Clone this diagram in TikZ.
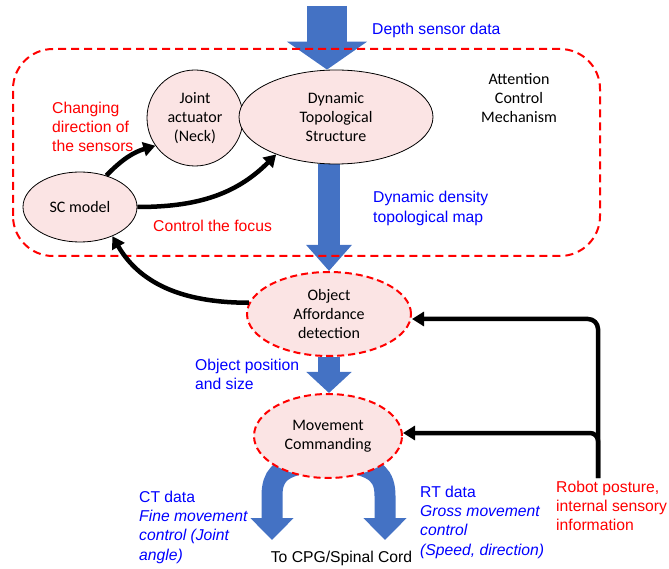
\documentclass[tikz,border=0pt]{standalone}
\usepackage{fontspec}
\setmainfont{Liberation Sans}
\newfontfamily\calibrifont{Carlito}
\usetikzlibrary{arrows.meta,shapes.geometric,backgrounds}
\definecolor{blockblue}{HTML}{4472C4}
\definecolor{bubblepink}{HTML}{FBE4E4}
\definecolor{labelred}{HTML}{FF0000}
\definecolor{labelblue}{HTML}{0000FF}

\tikzset{
  bubble/.style={ellipse,draw=black,line width=0.8pt,fill=bubblepink,inner sep=0pt,align=center,
    font=\calibrifont\fontsize{16}{19}\selectfont},
  dashbubble/.style={bubble,draw=labelred,line width=2pt,dash pattern=on 7pt off 4pt},
  bluetext/.style={text=labelblue,align=left,inner sep=0pt,font=\fontsize{15.7}{19.3}\selectfont},
  redtext/.style={bluetext,text=labelred},
  feedback/.style={line width=4.5pt,-{Triangle[length=12pt,width=14pt]}},
  blockarrow/.style={draw=blockblue,line width=22pt,-{Triangle[length=26pt,width=44pt]}}
}

\begin{document}
\begin{tikzpicture}[x=1pt,y=1pt]
    \pgfmathsetmacro{\topshaft}{40}
    \pgfmathsetmacro{\bandwidth}{21}
    \useasboundingbox (0,0) rectangle (669,568);

    % blobs
    \node[bubble,circle,minimum size=96pt] (ja) at (195,450) {Joint\\actuator\\(Neck)};
    \node[bubble,minimum width=194pt,minimum height=94pt] (dts) at (336,451) {Dynamic\\Topological\\Structure};
    \node[bubble,minimum width=114pt,minimum height=70pt] (sc) at (80,361) {SC model};
    \node[dashbubble,minimum width=164pt,minimum height=84pt] (oad) at (329,254) {Object\\Affordance\\detection};
    \node[dashbubble,minimum width=148pt,minimum height=84pt] (mc) at (328,132) {Movement\\Commanding};

    \coordinate (depthsrc) at (327,562);
    \coordinate (cttip) at (272,28);
    \coordinate (rttip) at (385,28);
    \coordinate (robotfoot) at (598,90);

    \begin{scope}[on background layer]
    \draw[blockarrow,line width=\topshaft pt,-{Triangle[length=28pt,width=79pt]}] (depthsrc) -- (depthsrc |- dts.north);
    \draw[blockarrow] (oad.north |- dts.south) -- (oad.north);
    \draw[blockarrow,-{Triangle[length=21pt,width=44pt]}] (oad.south) -- (oad.south |- mc.north);
    \draw[blockarrow,line width=\bandwidth pt,-{Triangle[length=22pt,width=42pt]}]
        ([yshift=14pt]mc.240) .. controls (280,100) and (272,92) .. (272,72) -- (cttip);
    \draw[blockarrow,line width=\bandwidth pt,-{Triangle[length=22pt,width=42pt]}]
        ([yshift=14pt]mc.300) .. controls (376,100) and (385,92) .. (385,72) -- (rttip);
    \end{scope}

    % attention frame
    \draw[labelred,line width=2pt,dash pattern=on 8pt off 5pt,rounded corners=40pt] (13,312) rectangle (600,519);

    \draw[feedback] (sc.50) to[bend left=15] (ja.215);
    \draw[feedback] (sc.east) to[out=0,in=225] (dts.212);
    \draw[feedback] (oad.172) to[out=180,in=-60] (sc.-42);
    \draw[feedback,rounded corners=10pt] (robotfoot) |- ([yshift=-5pt]oad.east);
    \draw[feedback,rounded corners=8pt] (robotfoot) |- ([yshift=3pt]mc.east);

    % labels
    \node[bluetext,anchor=west] (depthlbl) at (372,538) {Depth sensor data};
    \node[align=center,inner sep=0pt,font=\calibrifont\fontsize{16}{19}\selectfont] (attlbl) at (519,470) {Attention\\Control\\Mechanism};
    \node[redtext,anchor=west] (changelbl) at (52,441) {Changing\\direction of\\the sensors};
    \node[redtext,anchor=west] (focuslbl) at (153,342) {Control the focus};
    \node[bluetext,anchor=west] (densitylbl) at (373,359.5) {Dynamic density\\topological map};
    \node[bluetext,anchor=west] (poslbl) at (195,193.5) {Object position\\and size};
    \node[bluetext,anchor=west] (ctlbl) at (139,41) {CT data\\\textit{Fine movement}\\\textit{control (Joint}\\\textit{angle)}};
    \node[bluetext,anchor=west] (rtlbl) at (420,46) {RT data\\\textit{Gross movement}\\\textit{control}\\\textit{(Speed, direction)}};
    \node[inner sep=0pt,font=\fontsize{15.7}{19.3}\selectfont] (cpglbl) at (341.5,10) {To CPG/Spinal Cord};
    \node[redtext,anchor=west] (robotlbl) at (556,62) {Robot posture,\\internal sensory\\information};
\end{tikzpicture}
\end{document}
